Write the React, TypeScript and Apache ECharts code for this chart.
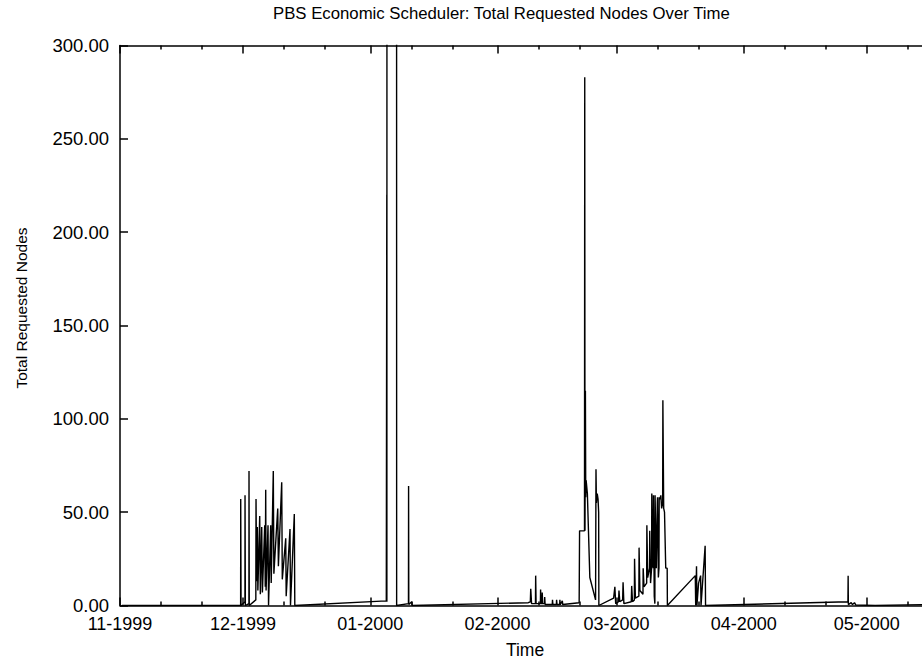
import React, { useEffect, useRef } from "react";
import * as echarts from "echarts";

// Time is stored as days since 1999-11-01 00:00 UTC; value = total requested nodes
const START_DATE = "1999-11-01T00:00:00Z";
const X_END_DAYS = 197.4;

const novQuiet: number[][] = [
  [0.5, 0], [29.0, 0],
];

const decCluster: number[][] = [
  [29.4, 0], [29.42, 57], [29.5, 0], [30.45, 2], [30.47, 59], [30.55, 0],
  [31.42, 1], [31.44, 72], [31.5, 0], [33.1, 3], [33.15, 57], [33.3, 13],
  [33.46, 42], [33.6, 8], [34.05, 48], [34.2, 6], [34.54, 42], [34.7, 7],
  [35.27, 43], [35.4, 10], [35.51, 62], [35.6, 8], [36.07, 43], [36.2, 0],
  [36.73, 43], [36.85, 12], [37.36, 72], [37.5, 17], [38.44, 52], [38.6, 21],
  [39.41, 66], [39.55, 14], [40.39, 36], [40.5, 5], [41.43, 41], [41.55, 0],
  [42.48, 49], [42.6, 0],
];

const janSpikes: number[][] = [
  [64.9, 2.5], [65.0, 2.5], [65.02, 220], [65.04, 2], [65.06, 500],
  [67.4, 500], [67.42, 0], [70.3, 1], [70.33, 64], [70.38, 0.5],
  [71.1, 2], [71.2, 0],
];

const febCluster: number[][] = [
  [99.5, 1.5], [100.0, 2], [100.1, 9], [100.3, 1], [101.25, 1], [101.3, 16],
  [101.4, 1], [102.45, 1], [102.5, 8.5], [102.6, 1], [102.85, 1], [102.9, 7],
  [103.0, 1], [103.45, 1], [103.5, 4.5], [103.6, 0.5], [105.35, 0.5], [105.4, 3],
  [105.5, 0.5], [106.35, 0.5], [106.4, 3], [106.5, 0.5], [107.15, 0.5], [107.2, 3],
  [107.3, 0.5], [107.8, 2.5], [107.9, 0.5], [111.9, 1.5],
];

const marPeak: number[][] = [
  [112.0, 40], [113.2, 40], [113.26, 283], [113.32, 40], [113.42, 115],
  [113.5, 58], [113.6, 67], [113.9, 60], [114.5, 15], [115.9, 3],
  [116.0, 73], [116.1, 55], [116.3, 60], [116.5, 57], [116.65, 50], [116.7, 0],
];

const marCluster: number[][] = [
  [120.3, 4], [120.4, 6], [120.6, 10], [120.8, 1], [121.5, 2], [121.6, 8],
  [121.8, 2], [122.5, 3], [122.6, 12.5], [122.8, 1], [124.6, 2], [124.7, 10.5],
  [124.9, 2], [125.35, 3], [125.4, 25], [125.6, 4], [126.45, 5], [126.5, 31],
  [126.7, 8], [127.45, 6], [127.5, 20], [127.7, 10], [128.35, 12], [128.4, 43],
  [128.6, 15], [129.05, 20], [129.1, 40], [129.3, 12], [129.55, 20], [129.6, 60],
  [129.8, 22], [129.95, 20], [130.0, 59], [130.2, 5], [130.35, 1], [130.4, 59],
  [130.7, 20], [130.95, 55], [131.0, 58], [131.2, 15], [131.35, 20], [131.4, 58],
  [131.6, 57], [131.8, 59], [132.0, 52], [132.25, 55], [132.3, 110], [132.5, 52],
  [132.7, 50], [133.0, 20], [133.35, 20], [133.4, 0],
];

const aprCluster: number[][] = [
  [140.2, 16], [140.3, 0], [140.5, 21], [140.6, 0], [141.0, 12], [141.5, 16],
  [141.6, 0], [142.6, 32], [142.7, 0],
];

const mayTail: number[][] = [
  [177.4, 2], [177.45, 16], [177.5, 0.5], [178.2, 1.5], [178.5, 0.5],
  [179.0, 1.5], [179.3, 0.3], [184.0, 0], [196.0, 0.5], [197.4, 1],
];

const monthTicks = [
  "1999-11-01", "1999-12-01", "2000-01-01", "2000-02-01",
  "2000-03-01", "2000-04-01", "2000-05-01",
];
const tenDayTicks = [
  "1999-11-11", "1999-11-21", "1999-12-11", "1999-12-21", "2000-01-11",
  "2000-01-21", "2000-02-11", "2000-02-21", "2000-03-11", "2000-03-21",
  "2000-04-11", "2000-04-21", "2000-05-11",
];

const yTicks = { min: 0, max: 300, step: 50 };

const FONT = "'Liberation Sans', Arial, Helvetica, sans-serif";
const DAY_MS = 86400000;

export default function App() {
  const ref = useRef<HTMLDivElement>(null);

  useEffect(() => {
    document.body.style.margin = "0";
    if (!ref.current) return;
    const chart = echarts.init(ref.current, undefined, { renderer: "svg" });
    const t0 = Date.parse(START_DATE);
    const toMs = (d: number) => t0 + d * DAY_MS;
    const parseDay = (s: string) => Date.parse(s + "T00:00:00Z");
    const all = [
      ...novQuiet, ...decCluster, ...janSpikes, ...febCluster,
      ...marPeak, ...marCluster, ...aprCluster, ...mayTail,
    ].map(([d, v]) => [toMs(d), v]);
    const major = monthTicks.map(parseDay);
    const minor = tenDayTicks.map(parseDay);
    const xMin = t0;
    const xMax = toMs(X_END_DAYS);
    const axisLine = { show: true, lineStyle: { color: "#000", width: 1.5 } };
    const tickStyle = { color: "#000", width: 1.5 };
    const fmt = (v: number) => {
      const d = new Date(v);
      const m = d.getUTCMonth() + 1;
      return (m < 10 ? "0" : "") + m + "-" + d.getUTCFullYear();
    };
    const baseX = {
      type: "value" as const,
      min: xMin,
      max: xMax,
      splitLine: { show: false },
    };

    chart.setOption({
      animation: false,
      textStyle: { fontFamily: FONT },
      title: {
        text: "PBS Economic Scheduler: Total Requested Nodes Over Time",
        left: 268,
        top: 0,
        textStyle: { fontSize: 16.75, fontWeight: "normal", color: "#000", fontFamily: FONT },
      },
      grid: {
        left: 120,
        top: 45.5,
        width: 810,
        height: 560,
        containLabel: false,
        outerBoundsMode: "none",
      },
      xAxis: [
        {
          ...baseX,
          position: "bottom",
          axisLine,
          axisTick: { show: true, inside: true, length: 8, customValues: major, lineStyle: tickStyle },
          axisLabel: { show: true, customValues: major, formatter: fmt, fontSize: 18, color: "#000", margin: 9.5, fontFamily: FONT },
          name: "Time",
          nameLocation: "middle",
          nameGap: 35,
          nameTextStyle: { fontSize: 17.5, color: "#000", fontFamily: FONT },
        },
        {
          ...baseX,
          position: "bottom",
          axisLine: { show: false },
          axisTick: { show: true, inside: true, length: 4, customValues: minor, lineStyle: tickStyle },
          axisLabel: { show: false },
        },
        {
          ...baseX,
          position: "top",
          axisLine,
          axisTick: { show: true, inside: true, length: 8, customValues: major, lineStyle: tickStyle },
          axisLabel: { show: false },
        },
        {
          ...baseX,
          position: "top",
          axisLine: { show: false },
          axisTick: { show: true, inside: true, length: 4, customValues: minor, lineStyle: tickStyle },
          axisLabel: { show: false },
        },
      ],
      yAxis: [
        {
          type: "value",
          min: yTicks.min,
          max: yTicks.max,
          interval: yTicks.step,
          position: "left",
          axisLine,
          axisTick: { show: true, inside: true, length: 8, lineStyle: tickStyle },
          axisLabel: { formatter: (v: number) => v.toFixed(2), fontSize: 18.5, color: "#000", margin: 11, fontFamily: FONT },
          splitLine: { show: false },
        },
        {
          type: "value",
          min: yTicks.min,
          max: yTicks.max,
          interval: yTicks.step,
          position: "right",
          axisLine,
          axisTick: { show: true, inside: true, length: 8, lineStyle: tickStyle },
          axisLabel: { show: false },
          splitLine: { show: false },
        },
      ],
      graphic: [
        {
          type: "text",
          x: 21.5,
          y: 308,
          rotation: Math.PI / 2,
          style: {
            text: "Total Requested Nodes",
            font: "15.5px " + FONT,
            fill: "#000",
            textAlign: "center",
            textVerticalAlign: "middle",
          },
        },
      ],
      series: [
        {
          type: "line",
          xAxisIndex: 0,
          yAxisIndex: 0,
          data: all,
          showSymbol: false,
          symbol: "none",
          clip: true,
          lineStyle: { color: "#000", width: 1.4 },
          emphasis: { disabled: true },
          silent: true,
        },
      ],
    });
    return () => chart.dispose();
  }, []);

  return (
    <div style={{ width: 922, height: 660, overflow: "hidden" }}>
      <div ref={ref} style={{ width: 940, height: 660 }} />
    </div>
  );
}
